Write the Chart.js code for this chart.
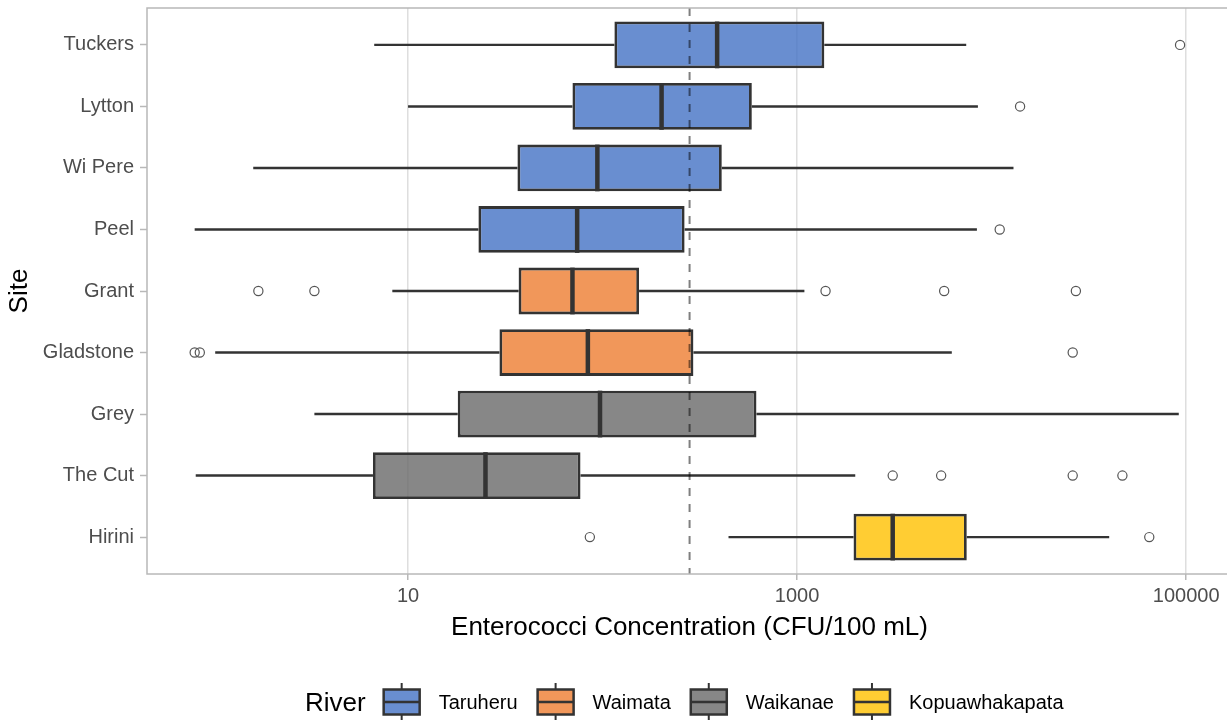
<!DOCTYPE html>
<html>
<head>
<meta charset="utf-8">
<script src="https://cdn.jsdelivr.net/npm/chart.js@4.4.1/dist/chart.umd.min.js"></script>
<style>
  html, body { margin: 0; padding: 0; background: #fff; overflow: hidden; }
  #wrap { width: 1227px; height: 720px; overflow: hidden; }
</style>
</head>
<body>
<div id="wrap"><canvas id="chart" width="1240" height="720"></canvas></div>
<script>
// sites top to bottom, and the river each one belongs to
const sites = ["Tuckers", "Lytton", "Wi Pere", "Peel", "Grant", "Gladstone", "Grey", "The Cut", "Hirini"];
const siteRiver = ["Taruheru", "Taruheru", "Taruheru", "Taruheru", "Waimata", "Waimata", "Waikanae", "Waikanae", "Kopuawhakapata"];
const rivers = ["Taruheru", "Waimata", "Waikanae", "Kopuawhakapata"];
const riverColors = ["rgba(68,114,196,0.8)", "rgba(237,125,49,0.8)", "rgba(105,105,105,0.8)", "rgba(255,192,0,0.8)"];

// box statistics (CFU/100 mL)
const whiskerLow  = [6.7, 10, 1.6, 0.8, 8.3, 1.02, 3.3, 0.81, 444];
const q1          = [115, 70, 36.5, 23, 37, 29.5, 18, 6.6, 1950];
const median      = [388, 201, 94, 74, 70, 84, 97, 25, 3100];
const q3          = [1380, 585, 410, 264, 154, 293, 618, 77, 7450];
const whiskerHigh = [7400, 8500, 12950, 8400, 1090, 6240, 91600, 1990, 40200];
const outliers = [
  [93000],
  [14000],
  [],
  [11000],
  [1.7, 3.3, 1400, 5700, 27100],
  [0.8, 0.85, 26100],
  [],
  [3100, 5500, 26100, 47000],
  [86, 64600]
];
const xTicks = [10, 1000, 100000];
const guideline = 280;

const FONT = '"Liberation Sans", Arial, sans-serif';
const BOX_RATIO = 0.76;

// one floating bar dataset per river, bars span q1..q3
const boxDatasets = rivers.map((river, r) => ({
  type: "bar",
  label: river,
  data: sites
    .map((s, i) => ({ x: [q1[i], q3[i]], y: i + 1, river: siteRiver[i] }))
    .filter(d => d.river === river),
  backgroundColor: riverColors[r],
  borderColor: "#333333",
  borderWidth: 2.8,
  borderSkipped: false,
  grouped: false,
  categoryPercentage: 1,
  barPercentage: BOX_RATIO
}));

const outlierDataset = {
  type: "scatter",
  label: "outliers",
  data: outliers.flatMap((vals, i) => vals.map(v => ({ x: v, y: i + 1 }))),
  pointStyle: "circle",
  pointRadius: 4.6,
  borderColor: "#555555",
  borderWidth: 1.2,
  backgroundColor: "rgba(0,0,0,0)"
};

const boxParts = {
  id: "boxParts",
  beforeDatasetsDraw(chart) {
    const { ctx, scales: { x, y } } = chart;
    ctx.save();
    ctx.strokeStyle = "#333333";
    ctx.lineWidth = 2.4;
    sites.forEach((s, i) => {
      const py = y.getPixelForValue(i + 1);
      ctx.beginPath();
      ctx.moveTo(x.getPixelForValue(whiskerLow[i]), py);
      ctx.lineTo(x.getPixelForValue(q1[i]), py);
      ctx.moveTo(x.getPixelForValue(q3[i]), py);
      ctx.lineTo(x.getPixelForValue(whiskerHigh[i]), py);
      ctx.stroke();
    });
    ctx.restore();
  },
  afterDatasetsDraw(chart) {
    const { ctx, chartArea, scales: { x, y } } = chart;
    const unit = Math.abs(y.getPixelForValue(2) - y.getPixelForValue(1));
    const half = unit * BOX_RATIO / 2;
    ctx.save();
    // medians
    ctx.strokeStyle = "#333333";
    ctx.lineWidth = 4.5;
    sites.forEach((s, i) => {
      const px = x.getPixelForValue(median[i]);
      const py = y.getPixelForValue(i + 1);
      ctx.beginPath();
      ctx.moveTo(px, py - half);
      ctx.lineTo(px, py + half);
      ctx.stroke();
    });
    // guideline
    const gx = x.getPixelForValue(guideline);
    ctx.strokeStyle = "rgba(0,0,0,0.5)";
    ctx.lineWidth = 2;
    ctx.setLineDash([8, 8]);
    ctx.beginPath();
    ctx.moveTo(gx, chartArea.top);
    ctx.lineTo(gx, chartArea.bottom);
    ctx.stroke();
    ctx.restore();
  },
  afterDraw(chart) {
    const { ctx, chartArea } = chart;
    ctx.save();
    // panel border
    ctx.strokeStyle = "#B8B8B8";
    ctx.lineWidth = 1.5;
    ctx.strokeRect(chartArea.left, chartArea.top, chartArea.right - chartArea.left, chartArea.bottom - chartArea.top);

    // legend along the bottom
    const ly = 702;
    let lx = 305;
    ctx.fillStyle = "#000";
    ctx.textBaseline = "alphabetic";
    ctx.font = "26px " + FONT;
    ctx.fillText("River", lx, ly + 0.358 * 26);
    lx += ctx.measureText("River").width + 18;
    ctx.font = "20px " + FONT;
    rivers.forEach((river, r) => {
      const kw = 36, kh = 25, cx = lx + kw / 2;
      ctx.strokeStyle = "#333333";
      ctx.lineWidth = 2;
      ctx.beginPath();
      ctx.moveTo(cx, ly - 19);
      ctx.lineTo(cx, ly + 20);
      ctx.stroke();
      ctx.fillStyle = "#fff";
      ctx.fillRect(lx, ly - kh / 2, kw, kh);
      ctx.fillStyle = riverColors[r];
      ctx.fillRect(lx, ly - kh / 2, kw, kh);
      ctx.lineWidth = 2.5;
      ctx.strokeRect(lx, ly - kh / 2, kw, kh);
      ctx.beginPath();
      ctx.moveTo(lx, ly);
      ctx.lineTo(lx + kw, ly);
      ctx.stroke();
      lx += kw + 19;
      ctx.fillStyle = "#000";
      ctx.fillText(river, lx, ly + 0.358 * 20);
      lx += ctx.measureText(river).width + 20;
    });
    ctx.restore();
  }
};

new Chart(document.getElementById("chart"), {
  type: "bar",
  data: { datasets: [...boxDatasets, outlierDataset] },
  options: {
    indexAxis: "y",
    responsive: false,
    animation: false,
    layout: { padding: { left: 0, right: 8, top: 8, bottom: 66 } },
    plugins: {
      legend: { display: false },
      tooltip: { enabled: false }
    },
    scales: {
      x: {
        type: "logarithmic",
        min: 0.455,
        max: 172000,
        offset: false,
        afterBuildTicks: s => { s.ticks = xTicks.map(v => ({ value: v })); },
        afterFit: s => { s.height = 80; s.paddingLeft = 0; s.paddingRight = 0; },
        grid: { color: "#DEDEDE", lineWidth: 1.5, tickLength: 6, tickColor: "#B8B8B8", tickWidth: 1.5, offset: false },
        border: { display: false },
        ticks: {
          font: { size: 20, family: FONT },
          color: "#4D4D4D",
          padding: 4,
          maxRotation: 0,
          autoSkip: false,
          callback: v => String(v)
        },
        title: {
          display: true,
          text: "Enterococci Concentration (CFU/100 mL)",
          font: { size: 26, family: FONT },
          color: "#000",
          padding: { top: 0, bottom: 11 }
        }
      },
      y: {
        type: "linear",
        min: 0.4,
        max: 9.6,
        reverse: true,
        offset: false,
        afterBuildTicks: s => { s.ticks = sites.map((n, i) => ({ value: i + 1 })); },
        afterFit: s => { s.width = 147; s.paddingTop = 0; s.paddingBottom = 0; },
        grid: { drawOnChartArea: false, drawTicks: true, tickLength: 7, tickColor: "#B8B8B8", tickWidth: 1.5, offset: false },
        border: { display: false },
        ticks: {
          font: { size: 20, family: FONT },
          color: "#4D4D4D",
          padding: 6,
          autoSkip: false,
          callback: v => sites[v - 1]
        },
        title: {
          display: true,
          text: "Site",
          font: { size: 26, family: FONT },
          color: "#000",
          padding: { top: 4, bottom: 0 }
        }
      }
    }
  },
  plugins: [boxParts]
});
</script>
</body>
</html>
